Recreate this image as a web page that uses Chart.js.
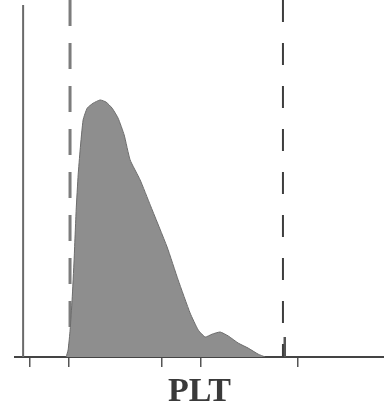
<!DOCTYPE html>
<html>
<head>
<meta charset="utf-8">
<script src="https://cdn.jsdelivr.net/npm/chart.js@4/dist/chart.umd.min.js"></script>
<style>
  html, body { margin: 0; padding: 0; background: #fff; }
  #wrap { width: 384px; height: 417px; position: relative; }
</style>
</head>
<body>
<div id="wrap"><canvas id="pltChart"></canvas></div>
<script>
// Histograma PLT (tamanho x contagem relativa)
const pltSize = [4.77, 4.99, 5.21, 5.43, 5.65, 5.88, 6.10, 6.32, 6.65, 7.10, 7.76, 8.54, 9.20, 9.87,
                 10.53, 11.20, 11.86, 12.97, 14.10, 15.96, 17.18, 18.51, 19.40, 20.18, 20.95, 21.84,
                 22.73, 23.84, 24.94, 26.05, 26.83];
const pltCount = [0, 2.0, 7.6, 16.0, 27.2, 41.2, 51.0, 58.0, 66.4, 69.7, 71.1, 72.0, 71.4, 69.7,
                  66.9, 62.2, 55.2, 49.6, 42.5, 30.8, 21.6, 12.3, 7.6, 5.6, 6.4, 7.0,
                  5.9, 3.9, 2.5, 0.8, 0];
const tickValues = [0.78, 5.1, 15.4, 19.7, 30.4];
const lowerDiscriminator = 5.2;   // linha tracejada
const upperDiscriminator = 28.8;  // linha pontilhada
const upperFlagX = 29.0;
const upperFlagHeight = 5.6;

const colors = {
    fill: '#8e8e8e',
    edge: '#6c6c6c',
    axis: '#555555',
    dashed: '#7c7c7c',
    dotted: '#3e3e3e'
};

// eixo Y desenhado na posicao x = 0 (o eixo X continua um pouco para a esquerda)
const yAxisLine = {
    id: 'yAxisLine',
    afterDatasetsDraw(chart) {
        const { ctx, chartArea, scales } = chart;
        const x = scales.x.getPixelForValue(0);
        ctx.save();
        ctx.strokeStyle = '#6a6a6a';
        ctx.lineWidth = 2;
        ctx.beginPath();
        ctx.moveTo(x, chartArea.top + 5);
        ctx.lineTo(x, chartArea.bottom);
        ctx.stroke();
        ctx.restore();
    }
};

new Chart(document.getElementById('pltChart'), {
    type: 'line',
    data: {
        datasets: [
            {
                data: pltSize.map((s, i) => ({ x: s, y: pltCount[i] })),
                fill: 'origin',
                backgroundColor: colors.fill,
                borderColor: colors.edge,
                borderWidth: 1,
                pointRadius: 0,
                tension: 0.15
            },
            {
                data: [{ x: lowerDiscriminator, y: 100 }, { x: lowerDiscriminator, y: 0 }],
                borderColor: colors.dashed,
                borderWidth: 3,
                borderDash: [26, 17],
                pointRadius: 0
            },
            {
                data: [{ x: upperDiscriminator, y: 100 }, { x: upperDiscriminator, y: 0 }],
                borderColor: colors.dotted,
                borderWidth: 2,
                borderDash: [22, 21],
                pointRadius: 0
            },
            {
                data: [{ x: upperFlagX, y: upperFlagHeight }, { x: upperFlagX, y: 0 }],
                borderColor: colors.axis,
                borderWidth: 2.5,
                pointRadius: 0
            }
        ]
    },
    options: {
        responsive: true,
        maintainAspectRatio: false,
        animation: false,
        layout: { padding: { left: 15 } },
        plugins: { legend: { display: false }, tooltip: { enabled: false } },
        scales: {
            x: {
                type: 'linear',
                min: -0.9,
                max: 40,
                afterBuildTicks: scale => { scale.ticks = tickValues.map(v => ({ value: v })); },
                grid: { drawOnChartArea: false, drawTicks: true, tickLength: 10, color: colors.axis, lineWidth: 1.5 },
                border: { display: true, color: '#444444', width: 2 },
                ticks: { display: false },
                title: {
                    display: true,
                    text: 'PLT',
                    color: '#3a3a3a',
                    font: { family: 'Liberation Serif', size: 34, weight: 'bold', lineHeight: 1 },
                    padding: { top: 8, bottom: 8 }
                }
            },
            y: {
                display: false,
                min: 0,
                max: 100
            }
        }
    },
    plugins: [yAxisLine]
});
</script>
</body>
</html>
